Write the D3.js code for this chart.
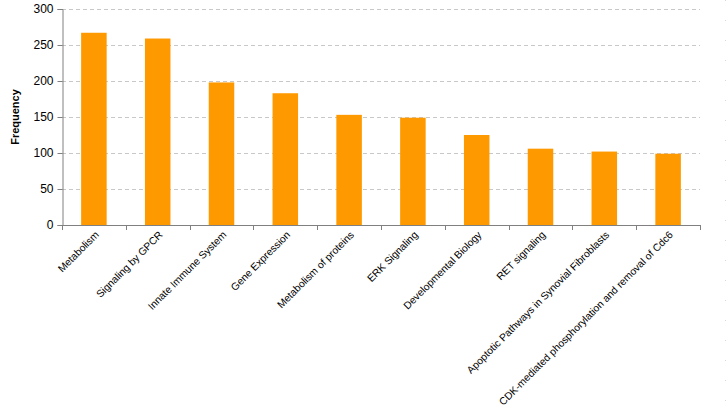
<!DOCTYPE html>
<html><head><meta charset="utf-8">
<script src="https://cdn.jsdelivr.net/npm/d3@7"></script>
<style>body{margin:0;background:#fff;}svg{display:block;font-family:"Liberation Sans",Arial,sans-serif;}</style>
</head><body>
<svg id="c" width="727" height="413"></svg>
<script>
const categories = ["Metabolism","Signaling by GPCR","Innate Immune System","Gene Expression","Metabolism of proteins","ERK Signaling","Developmental Biology","RET signaling","Apoptotic Pathways in Synovial Fibroblasts","CDK-mediated phosphorylation and removal of Cdc6"];
const values = [267,259,198,183,153,149,125,106,102,99];
const yTicks = [0,50,100,150,200,250,300];

const svg = d3.select("#c");
const m = {left:62, right:700, top:9, bottom:225};
const x = d3.scaleBand().domain(categories).range([m.left, m.right]).paddingInner(0.6).paddingOuter(0.3);
const y = d3.scaleLinear().domain([0,300]).range([m.bottom, m.top]);

// gridlines
svg.append("g").selectAll("line").data(yTicks.filter(d=>d>0)).join("line")
  .attr("x1", m.left).attr("x2", m.right)
  .attr("y1", d=>y(d)+0.5).attr("y2", d=>y(d)+0.5)
  .attr("stroke","#c8c8c8").attr("stroke-dasharray","4,3").attr("stroke-width",1);

// faint right-edge dotted line
svg.append("line").attr("x1",725.5).attr("x2",725.5).attr("y1",0).attr("y2",413)
  .attr("stroke","#d8d8d8").attr("stroke-dasharray","1,19");

// bars
svg.append("g").selectAll("rect").data(values).join("rect")
  .attr("x",(d,i)=>x(categories[i])).attr("width",x.bandwidth())
  .attr("y",d=>y(d)).attr("height",d=>y(0)-y(d))
  .attr("fill","#ff9900");

// y axis
const ya = svg.append("g").attr("transform",`translate(${m.left+0.5},0)`)
  .call(d3.axisLeft(y).tickValues(yTicks).tickSize(5).tickPadding(4));
ya.selectAll("path,line").attr("stroke","#808080");
ya.selectAll("text").attr("font-size","12px").attr("fill","#000").attr("font-family","'Liberation Sans',Arial,sans-serif");

// x axis
const xTickPos = d3.range(categories.length+1).map(i=>m.left + i*(m.right-m.left)/categories.length);
svg.append("line").attr("x1",m.left).attr("x2",m.right).attr("y1",m.bottom+0.5).attr("y2",m.bottom+0.5).attr("stroke","#808080");
svg.append("g").selectAll("line").data(xTickPos).join("line")
  .attr("x1",d=>Math.round(d)+0.5).attr("x2",d=>Math.round(d)+0.5)
  .attr("y1",m.bottom).attr("y2",m.bottom+5).attr("stroke","#808080");

svg.append("g").selectAll("text").data(categories).join("text")
  .attr("transform",d=>`translate(${x(d)+x.bandwidth()/2+3},${m.bottom+8}) rotate(-45)`)
  .attr("text-anchor","end").attr("dy","0.35em")
  .attr("font-size","10.3px").attr("fill","#000").text(d=>d);

// y label
svg.append("text").attr("transform",`translate(19,${(m.top+m.bottom)/2}) rotate(-90)`)
  .attr("text-anchor","middle").attr("font-size","11px").attr("font-weight","bold").text("Frequency");
</script>
</body></html>
